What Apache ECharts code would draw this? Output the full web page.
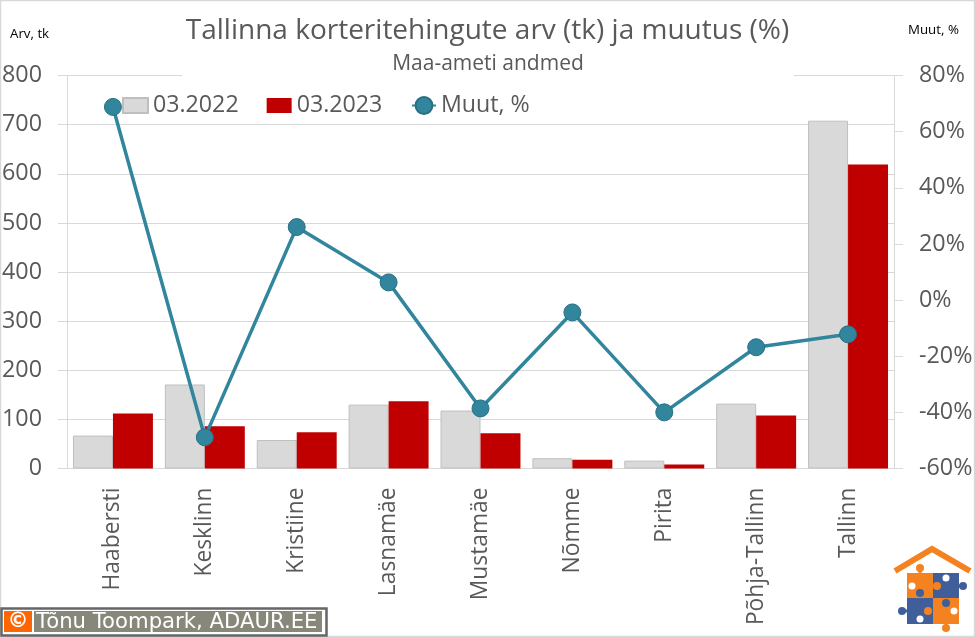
<!doctype html>
<html>
<head>
<meta charset="utf-8">
<style>
  html, body { margin: 0; padding: 0; background: #fff; }
  #main { width: 975px; height: 637px; }
</style>
</head>
<body>
<div id="main"></div>
<script src="https://cdn.jsdelivr.net/npm/echarts@6/dist/echarts.min.js"></script>
<script>
var categories = ['Haabersti', 'Kesklinn', 'Kristiine', 'Lasnamäe', 'Mustamäe', 'Nõmme', 'Pirita', 'Põhja-Tallinn', 'Tallinn'];
var arv2022 = [67, 171, 58, 130, 118, 21, 16, 132, 708];
var arv2023 = [112, 86, 74, 137, 72, 18, 8, 108, 619];
var muut = [68.8, -48.9, 26, 6.3, -38.6, -4.4, -40, -16.8, -12.2];

var grey = '#595959';
var lineCol = '#31859C';
var gridCol = '#D9D9D9';
var orange = '#F58220';
var blue = '#3F5E9A';
var font = '"Open Sans", "Noto Sans", sans-serif';

function logoRect(x, y, w, h, fill) {
    return { type: 'rect', z: 10, shape: { x: x, y: y, width: w, height: h }, style: { fill: fill } };
}
function logoDot(cx, cy, r, fill) {
    return { type: 'circle', z: 12, shape: { cx: cx, cy: cy, r: r }, style: { fill: fill } };
}

var chart = echarts.init(document.getElementById('main'));

chart.setOption({
    animation: false,
    backgroundColor: '#fff',
    textStyle: { fontFamily: font },
    grid: { left: 67, right: 81, top: 75.5, height: 393, outerBoundsMode: 'none' },
    title: [
        { text: 'Tallinna korteritehingute arv (tk) ja muutus (%)', left: 482.5, top: 12, textAlign: 'center',
          textStyle: { fontSize: 28, fontWeight: 'normal', color: grey, fontFamily: font } },
        { text: 'Maa-ameti andmed', left: 483, top: 49, textAlign: 'center',
          textStyle: { fontSize: 21, fontWeight: 'normal', color: grey, fontFamily: font } },
        { text: 'Arv, tk', left: 5, top: 23,
          textStyle: { fontSize: 13.3, fontWeight: 'normal', color: '#000', fontFamily: font } },
        { text: 'Muut, %', left: 903, top: 19,
          textStyle: { fontSize: 13.3, fontWeight: 'normal', color: '#000', fontFamily: font } }
    ],
    legend: [
        { left: 122, top: 94, padding: 0, itemWidth: 25, itemHeight: 15, itemGap: 28, icon: 'rect',
          textStyle: { fontSize: 23.2, color: grey, fontFamily: font },
          data: ['03.2022', '03.2023'] },
        { left: 411, top: 94, padding: 0, itemWidth: 24, itemHeight: 21,
          textStyle: { fontSize: 23.2, color: grey, fontFamily: font },
          data: ['Muut, %'] }
    ],
    xAxis: {
        type: 'category',
        data: categories,
        axisLine: { lineStyle: { color: gridCol, width: 1 } },
        axisTick: { show: false },
        axisLabel: { rotate: 90, fontSize: 22.8, color: grey, margin: 19, interval: 0, padding: [0, 0, 6, 0] }
    },
    yAxis: [
        { type: 'value', min: 0, max: 800, interval: 100,
          axisLine: { show: true, lineStyle: { color: gridCol, width: 1 } },
          axisTick: { show: true, length: 9, lineStyle: { color: gridCol, width: 1 } },
          axisLabel: { fontSize: 23.3, color: grey, margin: 25 },
          splitLine: { lineStyle: { color: gridCol, width: 1 } } },
        { type: 'value', min: -60, max: 80, interval: 20,
          axisLine: { show: true, lineStyle: { color: gridCol, width: 1 } },
          axisTick: { show: true, length: 9, lineStyle: { color: gridCol, width: 1 } },
          axisLabel: { fontSize: 23.3, color: grey, margin: 25, formatter: '{value}%' },
          splitLine: { show: false } }
    ],
    series: [
        { name: '03.2022', type: 'bar', data: arv2022, barGap: 0, barCategoryGap: '13%',
          itemStyle: { color: '#D9D9D9', borderColor: '#BFBFBF', borderWidth: 1 } },
        { name: '03.2023', type: 'bar', data: arv2023,
          itemStyle: { color: '#C00000' } },
        { name: 'Muut, %', type: 'line', yAxisIndex: 1, data: muut, symbol: 'circle', symbolSize: 17,
          lineStyle: { color: lineCol, width: 3.5 },
          itemStyle: { color: lineCol, borderColor: '#2A6F82', borderWidth: 1 }, z: 5 }
    ],
    graphic: [
        // valge taust pealkirja all katab ülemise ruudujoone
        { type: 'rect', z: 1, shape: { x: 182, y: 72, width: 612, height: 8 }, style: { fill: '#fff' } },
        // pildi raam
        { type: 'rect', z: 0, shape: { x: 0.5, y: 0.5, width: 974, height: 636 }, style: { fill: 'none', stroke: '#D9D9D9', lineWidth: 1.5 } },
        // autoriõiguse silt
        { type: 'rect', z: 10, shape: { x: 1.5, y: 608.5, width: 325, height: 27 }, style: { fill: '#fff', stroke: '#666', lineWidth: 2.5 } },
        { type: 'rect', z: 11, shape: { x: 4, y: 611, width: 28, height: 21 }, style: { fill: '#FF6600' } },
        { type: 'rect', z: 11, shape: { x: 34, y: 611, width: 288, height: 21 }, style: { fill: '#87877A' } },
        { type: 'text', z: 12, style: { x: 18, y: 622, text: '©', fill: '#fff', font: 'bold 21px "DejaVu Sans"', align: 'center', verticalAlign: 'middle' } },
        { type: 'text', z: 12, style: { x: 36, y: 622.5, text: 'Tõnu Toompark, ADAUR.EE', fill: '#fff', font: '21.2px "DejaVu Sans"', verticalAlign: 'middle' } },
        // logo: katus ja pusletükid
        { type: 'polyline', z: 10, shape: { points: [[895, 571], [932, 549], [970, 571]] }, style: { stroke: orange, lineWidth: 6, fill: 'none' } },
        logoRect(907, 573, 26, 25, orange),
        logoRect(933, 573, 26, 25, blue),
        logoRect(907, 598, 26, 26, blue),
        logoRect(933, 598, 26, 26, orange),
        logoRect(918.5, 568, 3, 6, orange),
        logoRect(958, 584.5, 5, 3, blue),
        logoRect(902, 609.5, 6, 3, blue),
        logoRect(944.5, 623, 3, 5, orange),
        logoDot(920, 568, 4, orange),
        logoDot(963, 586, 4, blue),
        logoDot(902, 611, 4, blue),
        logoDot(946, 628, 4, orange),
        logoDot(920, 593, 4, blue),
        logoDot(937, 586, 4, orange),
        logoDot(946, 603, 4, blue),
        logoDot(928, 611, 4, orange),
        logoDot(946, 578, 3.5, '#fff'),
        logoDot(912, 586, 3.5, '#fff'),
        logoDot(954, 611, 3.5, '#fff'),
        logoDot(920, 619, 3.5, '#fff')
    ]
});
</script>
</body>
</html>
